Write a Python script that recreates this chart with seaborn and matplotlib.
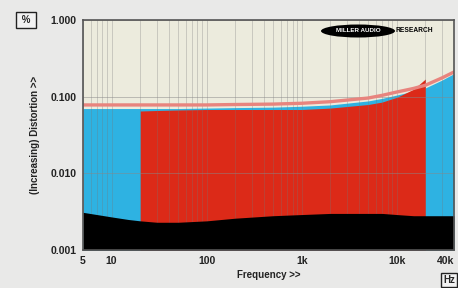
import numpy as np
import pandas as pd
import matplotlib
matplotlib.use("Agg")
import matplotlib.pyplot as plt
import seaborn as sns
from matplotlib.patches import Ellipse
from matplotlib.ticker import FixedLocator, FixedFormatter, LogLocator, NullFormatter

# ---- data ----
freq = [5, 7, 10, 15, 20, 30, 50, 100, 200, 500, 1000, 2000, 5000, 7000,
        10000, 15000, 20000, 30000, 40000]
noise_floor = [0.0031, 0.0029, 0.0027, 0.0025, 0.0024, 0.0023, 0.0023, 0.0024,
               0.0026, 0.0028, 0.0029, 0.0030, 0.0030, 0.0030, 0.0029, 0.0028,
               0.0028, 0.0028, 0.0028]
total_dist = [0.070, 0.070, 0.070, 0.070, 0.070, 0.070, 0.070, 0.071, 0.072,
              0.073, 0.075, 0.078, 0.088, 0.095, 0.105, 0.118, 0.130, 0.165, 0.200]
limit_line = [0.078, 0.078, 0.078, 0.078, 0.078, 0.078, 0.078, 0.078, 0.079,
              0.080, 0.082, 0.086, 0.096, 0.104, 0.115, 0.128, 0.141, 0.176, 0.210]
band_freq = [20, 30, 50, 100, 200, 500, 1000, 2000, 5000, 7000, 10000, 15000, 20000]
band_dist = [0.065, 0.066, 0.067, 0.068, 0.068, 0.068, 0.068, 0.071, 0.079,
             0.085, 0.098, 0.125, 0.170]

x_ticks = [5, 10, 100, 1000, 10000, 40000]
x_labels = ["5", "10", "100", "1k", "10k", "40k"]
y_ticks = [0.001, 0.01, 0.1, 1.0]
y_labels = ["0.001", "0.010", "0.100", "1.000"]

sns.set_style("white")
plt.rcParams["font.family"] = ["Liberation Sans", "DejaVu Sans"]

BG = "#e9e9e8"
CREAM = "#ecebdd"
BLUE = "#2eb2e2"
RED = "#dc2a18"
PINK = "#e8847e"

fig = plt.figure(figsize=(4.58, 2.88), dpi=100, facecolor=BG)
ax = fig.add_axes([83 / 458, 1 - 250 / 288, 371 / 458, 230 / 288])
ax.set_facecolor(CREAM)
ax.set_xscale("log")
ax.set_yscale("log")
ax.set_xlim(5, 40000)
ax.set_ylim(0.001, 1.0)

bottom = 0.001
ax.fill_between(freq, bottom, total_dist, color=BLUE, linewidth=0, zorder=1)
ax.fill_between(band_freq, bottom, band_dist, color=RED, linewidth=0, zorder=2)
ax.fill_between(freq, bottom, noise_floor, color="black", linewidth=0, zorder=3)

df = pd.DataFrame({"freq": freq, "limit": limit_line})
sns.lineplot(data=df, x="freq", y="limit", ax=ax, color=PINK, linewidth=2.4,
             zorder=4)

# grid drawn on top
ax.xaxis.set_minor_locator(LogLocator(base=10, subs=np.arange(2, 10)))
ax.grid(which="both", axis="x", color="#777777", alpha=0.3, linewidth=0.7, zorder=5)
ax.grid(which="major", axis="y", color="#888888", alpha=0.5, linewidth=0.7, zorder=5)
ax.set_axisbelow(False)

ax.xaxis.set_major_locator(FixedLocator(x_ticks))
ax.xaxis.set_major_formatter(FixedFormatter(x_labels))
ax.xaxis.set_minor_formatter(NullFormatter())
ax.yaxis.set_major_locator(FixedLocator(y_ticks))
ax.yaxis.set_major_formatter(FixedFormatter(y_labels))
ax.yaxis.set_minor_locator(LogLocator(base=10, subs=np.arange(2, 10)))
ax.yaxis.set_minor_formatter(NullFormatter())

ax.tick_params(axis="both", which="major", labelsize=7.5, length=3, width=0.8,
               color="#555555", pad=1.5, direction="out")
ax.tick_params(axis="both", which="minor", length=2, width=0.6, color="#777777",
               direction="out")
for lab in ax.get_xticklabels() + ax.get_yticklabels():
    lab.set_fontweight("bold")
    lab.set_color("#222222")
ax.get_xticklabels()[-1].set_horizontalalignment("right")
ax.get_xticklabels()[-1].set_x(40000)

for sp in ax.spines.values():
    sp.set_color("#555555")
    sp.set_linewidth(1.2)
    sp.set_zorder(6)

ax.set_xlabel("Frequency >>", fontsize=7, fontweight="bold", color="#222222",
              labelpad=3)
ax.set_ylabel("(Increasing) Distortion >>", fontsize=7, fontweight="bold",
              color="#222222", labelpad=8)

# unit boxes
fig.text(26 / 458, 1 - 20 / 288, " % ", fontsize=7, fontweight="bold",
         ha="center", va="center",
         bbox=dict(boxstyle="square,pad=0.35", fc="#f2f2f2", ec="#222222", lw=1))
fig.text(449 / 458, 1 - 280 / 288, "Hz", fontsize=7, fontweight="bold",
         ha="center", va="center",
         bbox=dict(boxstyle="square,pad=0.2", fc="#f2f2f2", ec="#222222", lw=1))

# logo
ell = Ellipse((358 / 458, 1 - 31 / 288), 74 / 458, 13 / 288,
              transform=fig.transFigure, fc="black", ec="none", zorder=10)
fig.patches.append(ell)
fig.text(358 / 458, 1 - 31 / 288, "MILLER AUDIO", fontsize=4.5, fontweight="bold",
         color="white", ha="center", va="center", zorder=11)
fig.text(396 / 458, 1 - 30 / 288, "RESEARCH", fontsize=4.8, fontweight="bold",
         color="black", ha="left", va="center", zorder=11)

fig.savefig("out.png", dpi=100, facecolor=BG)
